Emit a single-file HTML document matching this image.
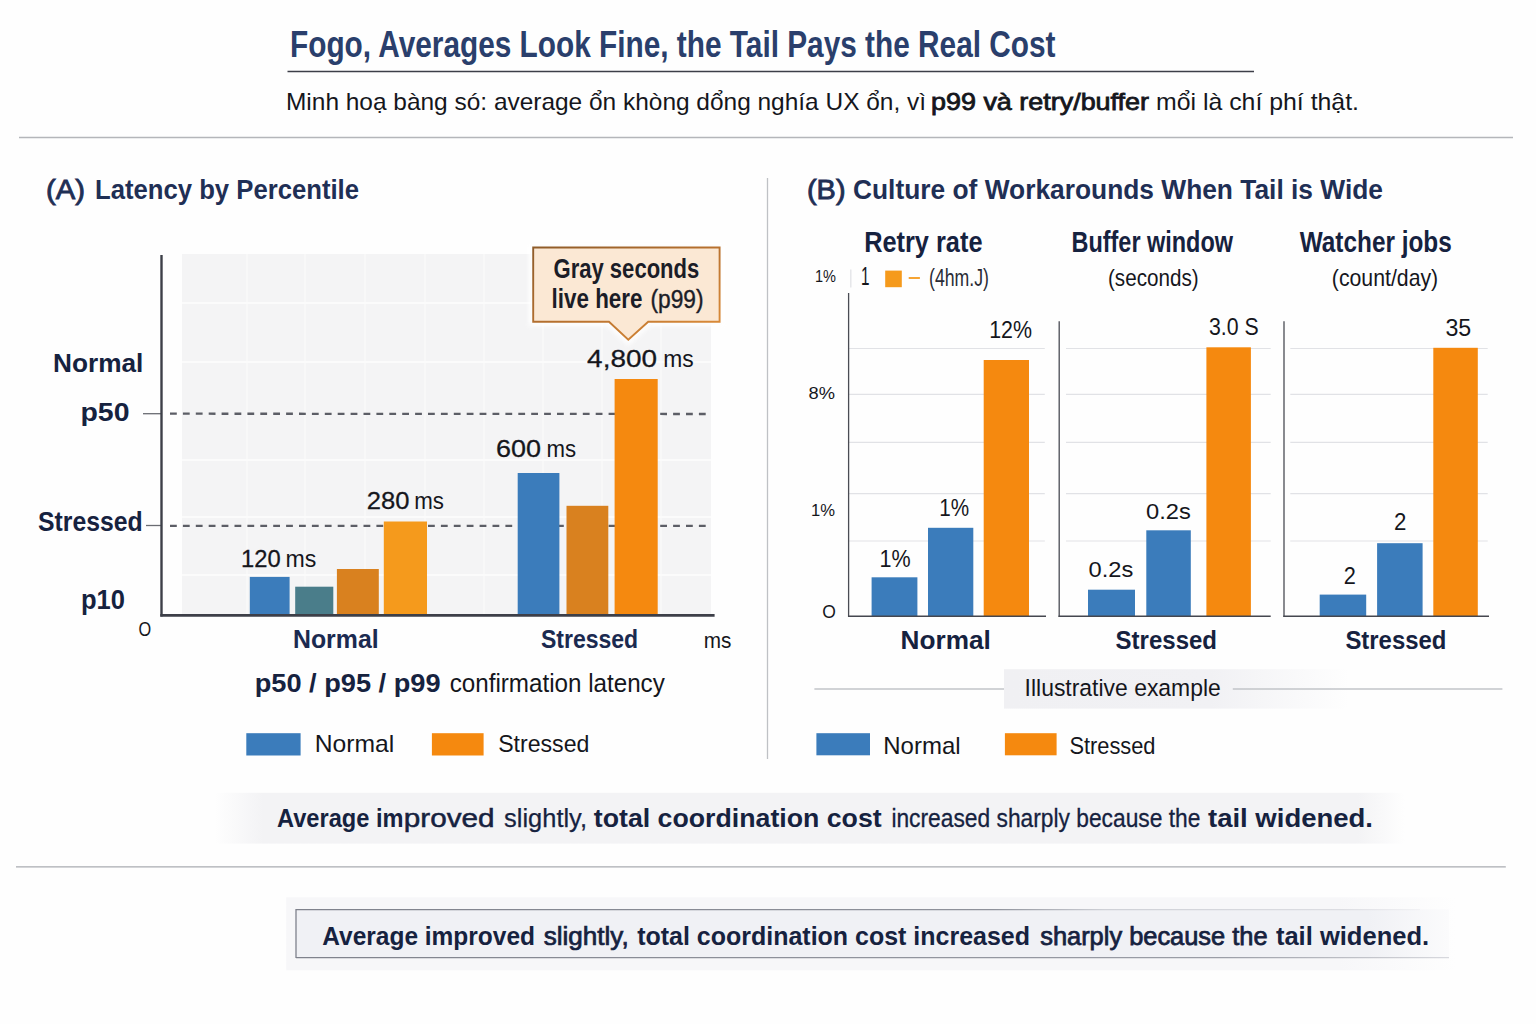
<!DOCTYPE html>
<html lang="en">
<head>
<meta charset="utf-8">
<title>Fogo, Averages Look Fine, the Tail Pays the Real Cost</title>
<style>
html,body{margin:0;padding:0;background:#fefefe;}
body{width:1536px;height:1024px;overflow:hidden;font-family:"Liberation Sans",sans-serif;}
svg{display:block;font-family:"Liberation Sans",sans-serif;}
text{white-space:pre;}
</style>
</head>
<body>
<svg width="1536" height="1024" viewBox="0 0 1536 1024">
<defs>
<filter id="fBlur" x="-20%" y="-20%" width="140%" height="140%"><feGaussianBlur stdDeviation="2.2"/></filter>
<linearGradient id="gCall" x1="0" y1="0" x2="1" y2="1"><stop offset="0" stop-color="#8f5c2a"/><stop offset="0.5" stop-color="#b9722f"/><stop offset="1" stop-color="#e08f3a"/></linearGradient>
<linearGradient id="gIll" x1="0" x2="1" y1="0" y2="0"><stop offset="0" stop-color="#f0f0f3"/><stop offset="0.6" stop-color="#f1f1f4"/><stop offset="1" stop-color="#fefefe"/></linearGradient>
<linearGradient id="gBan1" x1="0" x2="1" y1="0" y2="0"><stop offset="0" stop-color="#fefefe"/><stop offset="0.04" stop-color="#f3f3f5"/><stop offset="0.96" stop-color="#f3f3f5"/><stop offset="1" stop-color="#fefefe"/></linearGradient>
<linearGradient id="gBan2o" x1="0" x2="1" y1="0" y2="0"><stop offset="0" stop-color="#f7f7f9"/><stop offset="0.9" stop-color="#f7f7f9"/><stop offset="1" stop-color="#fefefe"/></linearGradient>
<linearGradient id="gBan2" x1="0" x2="1" y1="0" y2="0"><stop offset="0" stop-color="#f0f1f5"/><stop offset="0.93" stop-color="#f0f1f5"/><stop offset="1" stop-color="#fbfbfc"/></linearGradient>
<linearGradient id="gBordT" gradientUnits="userSpaceOnUse" x1="296" x2="1420" y1="0" y2="0"><stop offset="0" stop-color="#7f828c"/><stop offset="0.62" stop-color="#8f929b"/><stop offset="0.72" stop-color="#cfd1d7"/><stop offset="0.93" stop-color="#dcdde2"/><stop offset="1" stop-color="#f2f2f5"/></linearGradient>
<linearGradient id="gBord" gradientUnits="userSpaceOnUse" x1="296" x2="1449" y1="0" y2="0"><stop offset="0" stop-color="#7f828c"/><stop offset="0.8" stop-color="#9a9da6"/><stop offset="1" stop-color="#d8d9de"/></linearGradient>
</defs>
<rect width="1536" height="1024" fill="#fefefe"/>
<text x="290.0" y="56.7" font-size="37" font-weight="700" fill="#2a3f6c" textLength="765.5" lengthAdjust="spacingAndGlyphs">Fogo, Averages Look Fine, the Tail Pays the Real Cost</text>
<line x1="287.5" y1="71.5" x2="1254.0" y2="71.5" stroke="#3d3f48" stroke-width="1.6"/>
<text x="286.0" y="110.1" font-size="24" font-weight="400" fill="#15161c" textLength="640.0" lengthAdjust="spacingAndGlyphs">Minh hoạ bàng só: average ổn khòng dổng nghía UX ổn, vì</text>
<text x="931.0" y="110.1" font-size="24" font-weight="400" fill="#15161c" textLength="218.0" lengthAdjust="spacingAndGlyphs" stroke="#15161c" stroke-width="0.8">p99 và retry/buffer</text>
<text x="1156.0" y="110.1" font-size="24" font-weight="400" fill="#15161c" textLength="203.0" lengthAdjust="spacingAndGlyphs">mổi là chí phí thật.</text>
<line x1="19.0" y1="137.5" x2="1513.0" y2="137.5" stroke="#b4b6ba" stroke-width="1.3"/>
<text x="46.0" y="198.5" font-size="27" font-weight="400" fill="#1f2f55" textLength="39.0" lengthAdjust="spacingAndGlyphs" stroke="#1f2f55" stroke-width="0.85">(A)</text>
<text x="95.0" y="198.5" font-size="27" font-weight="700" fill="#1f2f55" textLength="264.0" lengthAdjust="spacingAndGlyphs">Latency by Percentile</text>
<text x="807.0" y="198.6" font-size="27" font-weight="400" fill="#1f2f55" textLength="38.5" lengthAdjust="spacingAndGlyphs" stroke="#1f2f55" stroke-width="0.85">(B)</text>
<text x="853.0" y="198.6" font-size="27" font-weight="700" fill="#1f2f55" textLength="530.0" lengthAdjust="spacingAndGlyphs">Culture of Workarounds When Tail is Wide</text>
<line x1="767.5" y1="178.0" x2="767.5" y2="759.0" stroke="#bfc1c5" stroke-width="1.3"/>
<rect x="182.0" y="254.0" width="529.0" height="361.0" fill="#f4f4f5"/>
<line x1="247.0" y1="254.0" x2="247.0" y2="615.0" stroke="#f9f9f9" stroke-width="1.6"/>
<line x1="305.0" y1="254.0" x2="305.0" y2="615.0" stroke="#f9f9f9" stroke-width="1.6"/>
<line x1="365.0" y1="254.0" x2="365.0" y2="615.0" stroke="#f9f9f9" stroke-width="1.6"/>
<line x1="425.0" y1="254.0" x2="425.0" y2="615.0" stroke="#f9f9f9" stroke-width="1.6"/>
<line x1="484.0" y1="254.0" x2="484.0" y2="615.0" stroke="#f9f9f9" stroke-width="1.6"/>
<line x1="543.0" y1="254.0" x2="543.0" y2="615.0" stroke="#f9f9f9" stroke-width="1.6"/>
<line x1="602.0" y1="254.0" x2="602.0" y2="615.0" stroke="#f9f9f9" stroke-width="1.6"/>
<line x1="661.0" y1="254.0" x2="661.0" y2="615.0" stroke="#f9f9f9" stroke-width="1.6"/>
<line x1="182.0" y1="303.0" x2="711.0" y2="303.0" stroke="#fbfbfb" stroke-width="2"/>
<line x1="182.0" y1="362.0" x2="711.0" y2="362.0" stroke="#fbfbfb" stroke-width="2"/>
<line x1="182.0" y1="460.0" x2="711.0" y2="460.0" stroke="#fbfbfb" stroke-width="2"/>
<line x1="182.0" y1="517.0" x2="711.0" y2="517.0" stroke="#fbfbfb" stroke-width="2"/>
<line x1="182.0" y1="575.0" x2="711.0" y2="575.0" stroke="#fbfbfb" stroke-width="2"/>
<line x1="170.0" y1="413.7" x2="709.0" y2="414.0" stroke="#5c5e66" stroke-width="2.3" stroke-dasharray="6.8 6.1"/>
<line x1="170.0" y1="525.8" x2="709.0" y2="525.8" stroke="#5c5e66" stroke-width="2.3" stroke-dasharray="6.8 6.1"/>
<line x1="143.0" y1="413.7" x2="161.0" y2="413.7" stroke="#6a6c72" stroke-width="1.3"/>
<line x1="146.0" y1="525.5" x2="161.0" y2="525.5" stroke="#6a6c72" stroke-width="1.3"/>
<rect x="249.8" y="576.9" width="39.8" height="38.1" fill="#3b7cbb"/>
<rect x="295.2" y="586.7" width="38.1" height="28.3" fill="#4a7d8a"/>
<rect x="336.9" y="569.0" width="41.9" height="46.0" fill="#d9811f"/>
<rect x="383.8" y="521.5" width="43.2" height="93.5" fill="#f59a1c"/>
<rect x="517.7" y="473.0" width="41.7" height="142.0" fill="#3b7cbb"/>
<rect x="566.5" y="505.8" width="41.8" height="109.2" fill="#d9811f"/>
<rect x="614.6" y="379.0" width="43.1" height="236.0" fill="#f5890f"/>
<line x1="161.5" y1="255.0" x2="161.5" y2="616.5" stroke="#3d3f48" stroke-width="2.4"/>
<line x1="160.3" y1="615.4" x2="714.6" y2="615.4" stroke="#3d3f48" stroke-width="2.6"/>
<path d="M533.2 247.5 H719.6 V321.7 H648.2 L628.3 339.6 L609 321.7 H533.2 Z" fill="#fefefe" stroke="#fefefe" stroke-width="9" filter="url(#fBlur)" opacity="0.9"/>
<path d="M533.2 247.5 H719.6 V321.7 H648.2 L628.3 339.6 L609 321.7 H533.2 Z" fill="#fbe8d4" stroke="url(#gCall)" stroke-width="1.9" stroke-linejoin="miter"/>
<text x="553.5" y="278.3" font-size="27" font-weight="700" fill="#1b1d27" textLength="145.8" lengthAdjust="spacingAndGlyphs">Gray seconds</text>
<text x="551.6" y="308.1" font-size="27" font-weight="700" fill="#1b1d27" textLength="90.9" lengthAdjust="spacingAndGlyphs">live here</text>
<text x="650.5" y="308.1" font-size="25.5" font-weight="400" fill="#1b1d27" textLength="53.1" lengthAdjust="spacingAndGlyphs" stroke="#1b1d27" stroke-width="0.4">(p99)</text>
<text x="587.1" y="366.9" font-size="24" font-weight="400" fill="#15161c" textLength="69.9" lengthAdjust="spacingAndGlyphs" stroke="#15161c" stroke-width="0.28">4,800</text>
<text x="663.2" y="366.9" font-size="24" font-weight="400" fill="#15161c" textLength="30.4" lengthAdjust="spacingAndGlyphs">ms</text>
<text x="496.0" y="457.3" font-size="24" font-weight="400" fill="#15161c" textLength="45.0" lengthAdjust="spacingAndGlyphs" stroke="#15161c" stroke-width="0.28">600</text>
<text x="546.4" y="457.3" font-size="24" font-weight="400" fill="#15161c" textLength="29.6" lengthAdjust="spacingAndGlyphs">ms</text>
<text x="366.8" y="508.8" font-size="24" font-weight="400" fill="#15161c" textLength="42.7" lengthAdjust="spacingAndGlyphs" stroke="#15161c" stroke-width="0.28">280</text>
<text x="414.3" y="508.8" font-size="24" font-weight="400" fill="#15161c" textLength="29.7" lengthAdjust="spacingAndGlyphs">ms</text>
<text x="241.0" y="566.6" font-size="24" font-weight="400" fill="#15161c" textLength="39.6" lengthAdjust="spacingAndGlyphs" stroke="#15161c" stroke-width="0.28">120</text>
<text x="285.5" y="566.6" font-size="24" font-weight="400" fill="#15161c" textLength="30.8" lengthAdjust="spacingAndGlyphs">ms</text>
<text x="53.0" y="372.4" font-size="26.5" font-weight="700" fill="#16223f" textLength="90.3" lengthAdjust="spacingAndGlyphs">Normal</text>
<text x="80.5" y="420.8" font-size="26" font-weight="700" fill="#16223f" textLength="49.0" lengthAdjust="spacingAndGlyphs">p50</text>
<text x="38.0" y="531.3" font-size="28" font-weight="700" fill="#16223f" textLength="104.7" lengthAdjust="spacingAndGlyphs">Stressed</text>
<text x="81.0" y="608.6" font-size="27" font-weight="700" fill="#16223f" textLength="44.0" lengthAdjust="spacingAndGlyphs">p10</text>
<text x="138.5" y="636.0" font-size="19.5" font-weight="400" fill="#15161c" textLength="12.7" lengthAdjust="spacingAndGlyphs">O</text>
<text x="293.0" y="647.8" font-size="26" font-weight="700" fill="#1b2a50" textLength="85.6" lengthAdjust="spacingAndGlyphs">Normal</text>
<text x="540.9" y="647.8" font-size="26" font-weight="700" fill="#1b2a50" textLength="97.3" lengthAdjust="spacingAndGlyphs">Stressed</text>
<text x="703.8" y="648.3" font-size="22" font-weight="400" fill="#15161c" textLength="27.7" lengthAdjust="spacingAndGlyphs">ms</text>
<text x="254.7" y="692.0" font-size="26" font-weight="700" fill="#16223f" textLength="185.9" lengthAdjust="spacingAndGlyphs">p50 / p95 / p99</text>
<text x="449.7" y="692.0" font-size="26.5" font-weight="400" fill="#15161c" textLength="215.1" lengthAdjust="spacingAndGlyphs">confirmation latency</text>
<rect x="246.3" y="733.2" width="54.3" height="22.3" fill="#3b7cbb"/>
<text x="314.8" y="751.8" font-size="24" font-weight="400" fill="#15161c" textLength="79.5" lengthAdjust="spacingAndGlyphs">Normal</text>
<rect x="431.9" y="733.2" width="51.7" height="22.3" fill="#f5890f"/>
<text x="498.2" y="751.8" font-size="24" font-weight="400" fill="#15161c" textLength="91.2" lengthAdjust="spacingAndGlyphs">Stressed</text>
<text x="864.2" y="252.1" font-size="29" font-weight="700" fill="#16223f" textLength="118.3" lengthAdjust="spacingAndGlyphs">Retry rate</text>
<text x="1071.5" y="252.1" font-size="29" font-weight="700" fill="#16223f" textLength="161.5" lengthAdjust="spacingAndGlyphs">Buffer window</text>
<text x="1299.7" y="252.1" font-size="29" font-weight="700" fill="#16223f" textLength="152.1" lengthAdjust="spacingAndGlyphs">Watcher jobs</text>
<text x="1108.0" y="285.7" font-size="24" font-weight="400" fill="#15161c" textLength="90.6" lengthAdjust="spacingAndGlyphs">(seconds)</text>
<text x="1331.8" y="285.7" font-size="24" font-weight="400" fill="#15161c" textLength="106.4" lengthAdjust="spacingAndGlyphs">(count/day)</text>
<text x="815.0" y="282.1" font-size="17" font-weight="400" fill="#15161c" textLength="21.0" lengthAdjust="spacingAndGlyphs">1%</text>
<line x1="850.8" y1="269.5" x2="850.8" y2="287.5" stroke="#e2e3e7" stroke-width="1.3"/>
<text x="861.0" y="285.2" font-size="25" font-weight="400" fill="#15161c" textLength="8.5" lengthAdjust="spacingAndGlyphs">1</text>
<rect x="885.2" y="270.6" width="16.6" height="16.6" fill="#f59a1c"/>
<line x1="908.7" y1="278.0" x2="919.9" y2="278.0" stroke="#f59a1c" stroke-width="1.8"/>
<text x="929.0" y="285.5" font-size="23" font-weight="400" fill="#2a2c36" textLength="60.0" lengthAdjust="spacingAndGlyphs">(4hm.J)</text>
<line x1="849.0" y1="348.5" x2="1044.8" y2="348.5" stroke="#e1e2e6" stroke-width="1.2"/>
<line x1="1066.0" y1="348.5" x2="1270.7" y2="348.5" stroke="#e1e2e6" stroke-width="1.2"/>
<line x1="1290.3" y1="348.5" x2="1487.7" y2="348.5" stroke="#e1e2e6" stroke-width="1.2"/>
<line x1="849.0" y1="394.3" x2="1044.8" y2="394.3" stroke="#e1e2e6" stroke-width="1.2"/>
<line x1="1066.0" y1="394.3" x2="1270.7" y2="394.3" stroke="#e1e2e6" stroke-width="1.2"/>
<line x1="1290.3" y1="394.3" x2="1487.7" y2="394.3" stroke="#e1e2e6" stroke-width="1.2"/>
<line x1="849.0" y1="442.3" x2="1044.8" y2="442.3" stroke="#e1e2e6" stroke-width="1.2"/>
<line x1="1066.0" y1="442.3" x2="1270.7" y2="442.3" stroke="#e1e2e6" stroke-width="1.2"/>
<line x1="1290.3" y1="442.3" x2="1487.7" y2="442.3" stroke="#e1e2e6" stroke-width="1.2"/>
<line x1="849.0" y1="493.7" x2="1044.8" y2="493.7" stroke="#e1e2e6" stroke-width="1.2"/>
<line x1="1066.0" y1="493.7" x2="1270.7" y2="493.7" stroke="#e1e2e6" stroke-width="1.2"/>
<line x1="1290.3" y1="493.7" x2="1487.7" y2="493.7" stroke="#e1e2e6" stroke-width="1.2"/>
<line x1="849.0" y1="541.0" x2="1044.8" y2="541.0" stroke="#e1e2e6" stroke-width="1.2"/>
<line x1="1066.0" y1="541.0" x2="1270.7" y2="541.0" stroke="#e1e2e6" stroke-width="1.2"/>
<line x1="1290.3" y1="541.0" x2="1487.7" y2="541.0" stroke="#e1e2e6" stroke-width="1.2"/>
<rect x="871.6" y="577.3" width="45.8" height="38.7" fill="#3b7cbb"/>
<rect x="928.0" y="527.8" width="45.3" height="88.2" fill="#3b7cbb"/>
<rect x="983.7" y="360.0" width="45.3" height="256.0" fill="#f5890f"/>
<rect x="1088.0" y="589.7" width="47.0" height="26.3" fill="#3b7cbb"/>
<rect x="1146.3" y="530.3" width="44.5" height="85.7" fill="#3b7cbb"/>
<rect x="1206.4" y="347.3" width="44.5" height="268.7" fill="#f5890f"/>
<rect x="1319.7" y="594.6" width="46.5" height="21.4" fill="#3b7cbb"/>
<rect x="1377.1" y="543.2" width="45.5" height="72.8" fill="#3b7cbb"/>
<rect x="1433.3" y="347.8" width="44.5" height="268.2" fill="#f5890f"/>
<line x1="848.6" y1="293.0" x2="848.6" y2="617.0" stroke="#4a4c54" stroke-width="1.3"/>
<line x1="848.0" y1="616.2" x2="1046.0" y2="616.2" stroke="#45474f" stroke-width="1.6"/>
<line x1="1059.2" y1="321.3" x2="1059.2" y2="617.0" stroke="#4a4c54" stroke-width="1.3"/>
<line x1="1058.5" y1="616.2" x2="1270.7" y2="616.2" stroke="#45474f" stroke-width="1.6"/>
<line x1="1284.0" y1="321.3" x2="1284.0" y2="617.0" stroke="#4a4c54" stroke-width="1.3"/>
<line x1="1283.3" y1="616.2" x2="1489.0" y2="616.2" stroke="#45474f" stroke-width="1.6"/>
<text x="808.6" y="399.3" font-size="17" font-weight="400" fill="#15161c" textLength="26.4" lengthAdjust="spacingAndGlyphs">8%</text>
<text x="811.0" y="515.5" font-size="17" font-weight="400" fill="#15161c" textLength="24.0" lengthAdjust="spacingAndGlyphs">1%</text>
<text x="822.2" y="618.0" font-size="18.5" font-weight="400" fill="#15161c" textLength="13.6" lengthAdjust="spacingAndGlyphs">O</text>
<text x="989.2" y="338.2" font-size="24" font-weight="400" fill="#15161c" textLength="42.8" lengthAdjust="spacingAndGlyphs">12%</text>
<text x="879.6" y="567.0" font-size="23.5" font-weight="400" fill="#15161c" textLength="31.1" lengthAdjust="spacingAndGlyphs">1%</text>
<text x="939.2" y="515.5" font-size="23.5" font-weight="400" fill="#15161c" textLength="29.9" lengthAdjust="spacingAndGlyphs">1%</text>
<text x="1088.6" y="577.3" font-size="22" font-weight="400" fill="#15161c" textLength="44.8" lengthAdjust="spacingAndGlyphs">0.2s</text>
<text x="1146.0" y="519.2" font-size="22" font-weight="400" fill="#15161c" textLength="44.8" lengthAdjust="spacingAndGlyphs">0.2s</text>
<text x="1208.9" y="334.9" font-size="23.5" font-weight="400" fill="#15161c" textLength="49.7" lengthAdjust="spacingAndGlyphs">3.0 S</text>
<text x="1343.7" y="583.5" font-size="23.5" font-weight="400" fill="#15161c" textLength="12.1" lengthAdjust="spacingAndGlyphs">2</text>
<text x="1394.0" y="530.3" font-size="23.5" font-weight="400" fill="#15161c" textLength="12.4" lengthAdjust="spacingAndGlyphs">2</text>
<text x="1445.4" y="336.2" font-size="23" font-weight="400" fill="#15161c" textLength="25.8" lengthAdjust="spacingAndGlyphs">35</text>
<text x="900.6" y="649.3" font-size="25" font-weight="700" fill="#16223f" textLength="90.3" lengthAdjust="spacingAndGlyphs">Normal</text>
<text x="1115.6" y="649.3" font-size="25" font-weight="700" fill="#16223f" textLength="101.4" lengthAdjust="spacingAndGlyphs">Stressed</text>
<text x="1345.4" y="649.3" font-size="25" font-weight="700" fill="#16223f" textLength="101.0" lengthAdjust="spacingAndGlyphs">Stressed</text>
<rect x="1004" y="669.2" width="345" height="39.4" fill="url(#gIll)"/>
<line x1="814.4" y1="689.0" x2="1004.0" y2="689.0" stroke="#c2c4c9" stroke-width="1.3"/>
<line x1="1232.8" y1="689.0" x2="1502.4" y2="689.0" stroke="#c2c4c9" stroke-width="1.3"/>
<text x="1024.6" y="696.0" font-size="24.5" font-weight="400" fill="#15161c" textLength="196.2" lengthAdjust="spacingAndGlyphs">Illustrative example</text>
<rect x="816.4" y="733.2" width="53.6" height="22.1" fill="#3b7cbb"/>
<text x="883.3" y="753.9" font-size="24" font-weight="400" fill="#15161c" textLength="77.3" lengthAdjust="spacingAndGlyphs">Normal</text>
<rect x="1004.9" y="733.2" width="51.7" height="22.1" fill="#f5890f"/>
<text x="1069.4" y="753.9" font-size="24" font-weight="400" fill="#15161c" textLength="86.1" lengthAdjust="spacingAndGlyphs">Stressed</text>
<rect x="215" y="792.8" width="1190" height="50.8" fill="url(#gBan1)"/>
<text x="277.0" y="827.3" font-size="26" font-weight="700" fill="#16223f" textLength="126.5" lengthAdjust="spacingAndGlyphs">Average im</text>
<text x="403.8" y="827.3" font-size="26" font-weight="400" fill="#16223f" textLength="90.8" lengthAdjust="spacingAndGlyphs" stroke="#16223f" stroke-width="0.5">proved</text>
<text x="504.1" y="827.3" font-size="26" font-weight="400" fill="#16223f" textLength="82.9" lengthAdjust="spacingAndGlyphs" stroke="#16223f" stroke-width="0.25">slightly,</text>
<text x="593.8" y="827.3" font-size="26" font-weight="700" fill="#16223f" textLength="287.9" lengthAdjust="spacingAndGlyphs">total coordination cost</text>
<text x="891.4" y="827.3" font-size="26" font-weight="400" fill="#16223f" textLength="309.0" lengthAdjust="spacingAndGlyphs" stroke="#16223f" stroke-width="0.3">increased sharply because the</text>
<text x="1208.0" y="827.3" font-size="26" font-weight="700" fill="#16223f" textLength="165.0" lengthAdjust="spacingAndGlyphs">tail widened.</text>
<line x1="16.0" y1="866.9" x2="1505.8" y2="866.9" stroke="#a9abb1" stroke-width="1.4"/>
<rect x="286.2" y="897.3" width="1170" height="73" fill="url(#gBan2o)"/>
<rect x="296" y="909.3" width="1153" height="48.7" fill="url(#gBan2)"/>
<path d="M1420 909.6 H296" fill="none" stroke="url(#gBordT)" stroke-width="1.3"/>
<path d="M296 909 V958" fill="none" stroke="#7f828c" stroke-width="1.3"/>
<path d="M296 957.6 H1449" fill="none" stroke="url(#gBord)" stroke-width="1.3"/>
<text x="322.3" y="945.0" font-size="25" font-weight="700" fill="#16223f" textLength="212.7" lengthAdjust="spacingAndGlyphs">Average improved</text>
<text x="543.7" y="945.0" font-size="25" font-weight="400" fill="#16223f" textLength="85.0" lengthAdjust="spacingAndGlyphs" stroke="#16223f" stroke-width="0.7">slightly,</text>
<text x="637.2" y="945.0" font-size="25" font-weight="700" fill="#16223f" textLength="392.8" lengthAdjust="spacingAndGlyphs">total coordination cost increased</text>
<text x="1040.2" y="945.0" font-size="25" font-weight="400" fill="#16223f" textLength="227.4" lengthAdjust="spacingAndGlyphs" stroke="#16223f" stroke-width="0.75">sharply because the</text>
<text x="1275.9" y="945.0" font-size="25" font-weight="700" fill="#16223f" textLength="153.3" lengthAdjust="spacingAndGlyphs">tail widened.</text>
</svg>
</body>
</html>
